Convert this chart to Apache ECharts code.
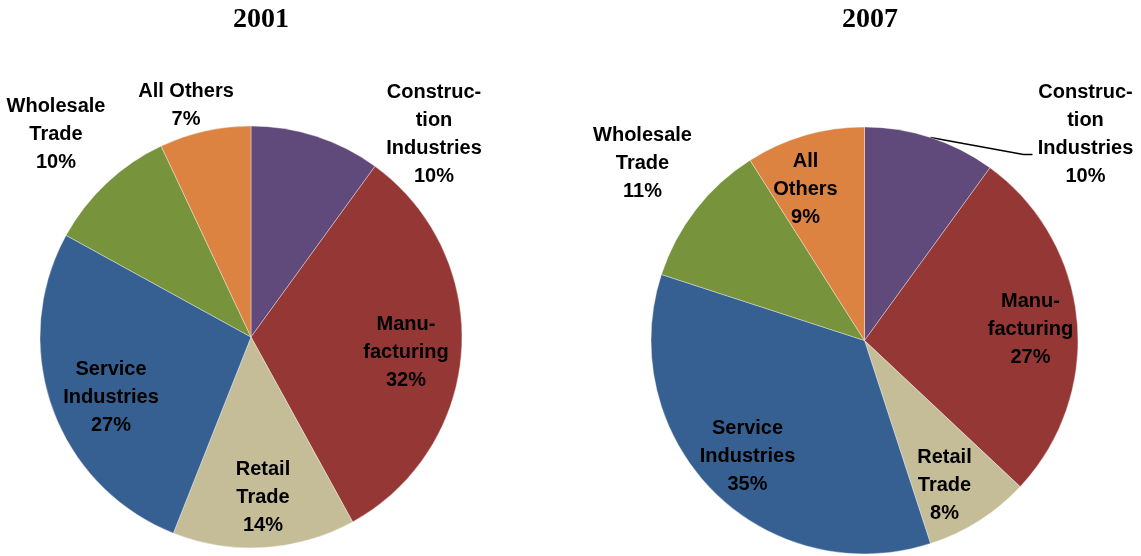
<!DOCTYPE html>
<html>
<head>
<meta charset="utf-8">
<script src="https://cdn.jsdelivr.net/npm/echarts@6/dist/echarts.min.js"></script>
<style>
  html, body { margin: 0; padding: 0; background: #fff; }
  #chart { width: 1141px; height: 556px; }
</style>
</head>
<body>
<div id="chart"></div>
<script>
// Industry shares (%) by year
const categories = ['Construc-\ntion\nIndustries', 'Manu-\nfacturing', 'Retail\nTrade', 'Service\nIndustries', 'Wholesale\nTrade', 'All Others'];
const categories2007 = ['Construc-\ntion\nIndustries', 'Manu-\nfacturing', 'Retail\nTrade', 'Service\nIndustries', 'Wholesale\nTrade', 'All\nOthers'];
const years = ['2001', '2007'];
const values2001 = [10, 32, 14, 27, 10, 7];
const values2007 = [10, 27, 8, 35, 11, 9];

const colors = ['#604A7B', '#953735', '#C4BD97', '#376092', '#77933C', '#DC8341'];

// Pie geometry
const pies = [
  { center: [251, 337], radius: 211 },
  { center: [864.5, 340.5], radius: 213.5 }
];

// Label anchors as offsets from each pie's centre (label box centre)
const labelOffsets = [
  [[183, -203], [155, 15], [12, 160], [-140, 60], [-195, -203], [-65, -232]],
  [[221, -206], [166, -11], [80, 145], [-117, 116], [-222, -177], [-59, -151]]
];

function buildData(names, values) {
  return names.map((n, i) => ({
    name: n,
    value: values[i],
    itemStyle: { color: colors[i] }
  }));
}

const data2001 = buildData(categories, values2001);
const data2007 = buildData(categories2007, values2007);
// Leader line for the Construction label on the 2007 pie
data2007[0].labelLine = { show: true, lineStyle: { color: '#000', width: 1.4 } };

function midAngle(values, idx) {
  const total = values.reduce((a, b) => a + b, 0);
  let before = 0;
  for (let i = 0; i < idx; i++) before += values[i];
  return ((before + values[idx] / 2) / total) * 2 * Math.PI;
}

const labelStyle = {
  show: true,
  position: 'outside',
  color: '#000',
  fontFamily: 'Liberation Sans, Arial, sans-serif',
  fontWeight: 'bold',
  fontSize: 20,
  lineHeight: 28,
  align: 'center',
  formatter: p => p.name + '\n' + p.value + '%'
};

function makeLayout(seriesIdx, values) {
  return function (params) {
    const pie = pies[seriesIdx];
    const off = labelOffsets[seriesIdx][params.dataIndex];
    const x = pie.center[0] + off[0];
    const y = pie.center[1] + off[1];
    const res = { x: x, y: y, align: 'center', verticalAlign: 'middle' };
    if (seriesIdx === 1 && params.dataIndex === 0) {
      const a = midAngle(values, 0);
      const ex = pie.center[0] + pie.radius * Math.sin(a);
      const ey = pie.center[1] - pie.radius * Math.cos(a);
      res.labelLinePoints = [[ex, ey], [x - 62, y + 20], [x - 53, y + 20]];
    }
    return res;
  };
}

const chart = echarts.init(document.getElementById('chart'), null, { renderer: 'canvas' });
chart.setOption({
  backgroundColor: '#fff',
  animation: false,
  title: years.map((y, i) => ({
    text: y,
    left: [256, 865][i],
    top: 1,
    textAlign: 'center',
    textStyle: {
      fontFamily: 'Liberation Serif, Times New Roman, serif',
      fontWeight: 'bold',
      fontSize: 28,
      color: '#000'
    }
  })),
  series: [
    {
      type: 'pie',
      center: pies[0].center,
      radius: pies[0].radius,
      startAngle: 90,
      clockwise: true,
      avoidLabelOverlap: false,
      itemStyle: { borderColor: 'rgba(255,255,255,0.6)', borderWidth: 0.6 },
      label: labelStyle,
      labelLine: { show: false },
      labelLayout: makeLayout(0, values2001),
      data: data2001
    },
    {
      type: 'pie',
      center: pies[1].center,
      radius: pies[1].radius,
      startAngle: 90,
      clockwise: true,
      avoidLabelOverlap: false,
      itemStyle: { borderColor: 'rgba(255,255,255,0.6)', borderWidth: 0.6 },
      label: labelStyle,
      labelLine: { show: false },
      labelLayout: makeLayout(1, values2007),
      data: data2007
    }
  ]
});
</script>
</body>
</html>
